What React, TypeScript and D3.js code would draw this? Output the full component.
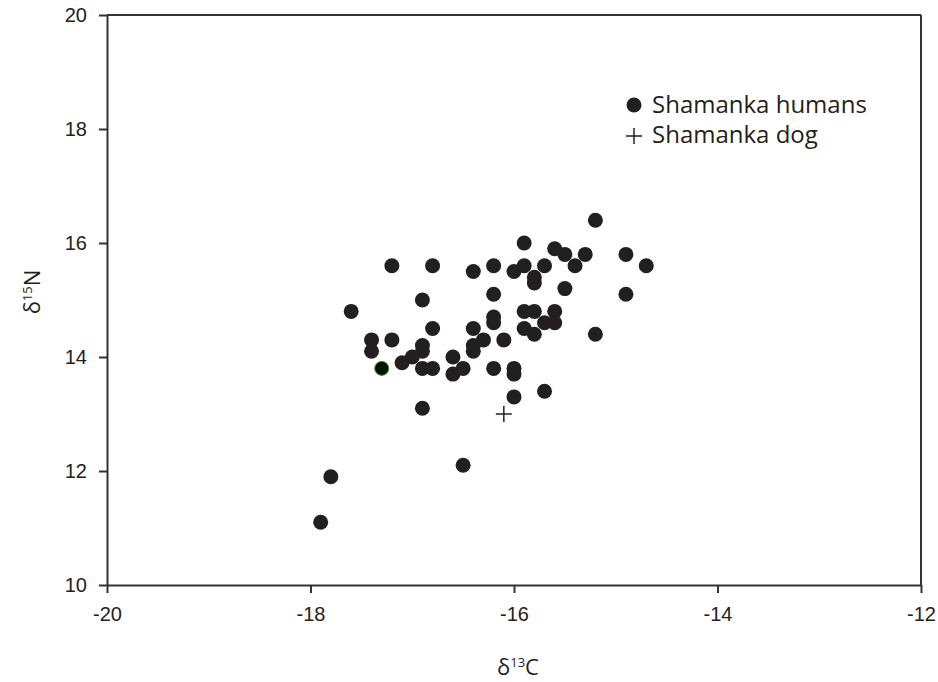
import { useEffect, useRef } from 'react'
import * as d3 from 'd3'

// δ13C, δ15N pairs
const humanC = [
  -15.2, -15.9, -15.6, -15.5, -15.3, -15.4, -17.2, -16.8, -16.4, -16.2,
  -16.0, -15.9, -15.7, -15.8, -15.8, -15.5, -16.9, -16.2, -17.6, -15.9,
  -15.8, -15.6, -16.2, -16.2, -16.8, -16.4, -15.9, -15.7, -15.6, -15.8,
  -15.2, -17.4, -17.4, -17.2, -16.9, -16.9, -17.0, -17.1, -16.9, -16.8,
  -16.6, -16.6, -16.5, -16.4, -16.4, -16.3, -16.1, -16.2, -16.0, -16.0,
  -16.0, -15.7, -16.9, -17.8, -17.9, -16.5, -14.9, -14.7, -14.9,
]
const humanN = [
  16.4, 16.0, 15.9, 15.8, 15.8, 15.6, 15.6, 15.6, 15.5, 15.6,
  15.5, 15.6, 15.6, 15.4, 15.3, 15.2, 15.0, 15.1, 14.8, 14.8,
  14.8, 14.8, 14.7, 14.6, 14.5, 14.5, 14.5, 14.6, 14.6, 14.4,
  14.4, 14.3, 14.1, 14.3, 14.2, 14.1, 14.0, 13.9, 13.8, 13.8,
  14.0, 13.7, 13.8, 14.2, 14.1, 14.3, 14.3, 13.8, 13.8, 13.7,
  13.3, 13.4, 13.1, 11.9, 11.1, 12.1, 15.8, 15.6, 15.1,
]
// the one dot drawn with a green outline
const greenC = [-17.3]
const greenN = [13.8]

const dogC = [-16.1]
const dogN = [13.0]

const xTicks = [-20, -18, -16, -14, -12]
const yTicks = [10, 12, 14, 16, 18, 20]
const legendLabels = ['Shamanka humans', 'Shamanka dog']

const W = 938
const H = 682

export default function App() {
  const svgRef = useRef<SVGSVGElement>(null)

  useEffect(() => {
    if (!svgRef.current) return
    const svg = d3.select(svgRef.current)
    svg.selectAll('*').remove()

    const margin = { top: 15, right: 17, bottom: 97, left: 107 }
    const width = W - margin.left - margin.right
    const height = H - margin.top - margin.bottom

    const g = svg.append('g')
      .attr('transform', `translate(${margin.left},${margin.top})`)

    const x = d3.scaleLinear().domain([-20, -12]).range([0, width])
    const y = d3.scaleLinear().domain([10, 20]).range([height, 0])

    const axisColor = '#333'
    const tickFont = '"Liberation Sans", Arial, sans-serif'
    const fmt = (d: d3.NumberValue) => String(d)

    // frame top / right
    g.append('line').attr('x1', 0).attr('x2', width).attr('y1', 0).attr('y2', 0)
      .attr('stroke', axisColor).attr('stroke-width', 2)
    g.append('line').attr('x1', width).attr('x2', width).attr('y1', 0).attr('y2', height)
      .attr('stroke', axisColor).attr('stroke-width', 2)

    const xAxis = g.append('g')
      .attr('transform', `translate(0,${height})`)
      .call(d3.axisBottom(x).tickValues(xTicks).tickFormat(fmt).tickSize(8).tickSizeOuter(0).tickPadding(14))
    const yAxis = g.append('g')
      .call(d3.axisLeft(y).tickValues(yTicks).tickFormat(fmt).tickSize(8).tickSizeOuter(0).tickPadding(12))

    ;[xAxis, yAxis].forEach(ax => {
      ax.select('.domain').attr('stroke', axisColor).attr('stroke-width', 2)
      ax.selectAll('.tick line').attr('stroke', axisColor).attr('stroke-width', 2)
      ax.selectAll('.tick text')
        .style('font-family', tickFont)
        .style('font-size', '20px')
        .style('fill', '#222')
    })

    const dotColor = '#231f20'
    const r = 7.5

    g.append('g').selectAll('circle')
      .data(d3.range(humanC.length))
      .join('circle')
      .attr('cx', i => x(humanC[i]))
      .attr('cy', i => y(humanN[i]))
      .attr('r', r)
      .attr('fill', dotColor)

    g.append('g').selectAll('circle')
      .data(d3.range(greenC.length))
      .join('circle')
      .attr('cx', i => x(greenC[i]))
      .attr('cy', i => y(greenN[i]))
      .attr('r', r - 0.5)
      .attr('fill', '#001400')
      .attr('stroke', '#4a8a2a')
      .attr('stroke-width', 1)

    const plus = (s: number) => `M${-s},0H${s}M0,${-s}V${s}`

    g.append('g').selectAll('path')
      .data(d3.range(dogC.length))
      .join('path')
      .attr('transform', i => `translate(${x(dogC[i])},${y(dogN[i])})`)
      .attr('d', plus(8))
      .attr('stroke', '#222')
      .attr('stroke-width', 1.5)
      .attr('fill', 'none')

    // axis titles
    const titleFont = '"Open Sans", "Noto Sans", sans-serif'
    const xt = svg.append('text')
      .attr('x', margin.left + width / 2 + 4)
      .attr('y', 675)
      .attr('text-anchor', 'middle')
      .style('font-family', titleFont)
      .style('font-size', '22px')
      .style('fill', '#231f20')
    xt.append('tspan').text('δ')
    xt.append('tspan').attr('dy', -8).style('font-size', '13px').text('13')
    xt.append('tspan').attr('dy', 8).text('C')

    const yt = svg.append('text')
      .attr('transform', `translate(40,${margin.top + height / 2 - 8}) rotate(-90)`)
      .attr('text-anchor', 'middle')
      .style('font-family', titleFont)
      .style('font-size', '22px')
      .style('fill', '#231f20')
    yt.append('tspan').text('δ')
    yt.append('tspan').attr('dy', -8).style('font-size', '13px').text('15')
    yt.append('tspan').attr('dy', 8).text('N')

    // legend
    const lg = svg.append('g').attr('transform', 'translate(634,105)')
    lg.append('circle').attr('cx', 0).attr('cy', 0).attr('r', r).attr('fill', dotColor)
    lg.append('path').attr('transform', 'translate(0,31)').attr('d', plus(8))
      .attr('stroke', '#222').attr('stroke-width', 1.5).attr('fill', 'none')
    lg.selectAll('text')
      .data(legendLabels)
      .join('text')
      .attr('x', 18)
      .attr('y', (_, i) => 8 + i * 30)
      .style('font-family', titleFont)
      .style('font-size', '24px')
      .style('fill', '#231f20')
      .text(d => d)
  }, [])

  return (
    <div style={{ position: 'absolute', left: 0, top: 0 }}>
      <svg ref={svgRef} width={W} height={H} style={{ background: '#fff', display: 'block' }} />
    </div>
  )
}
